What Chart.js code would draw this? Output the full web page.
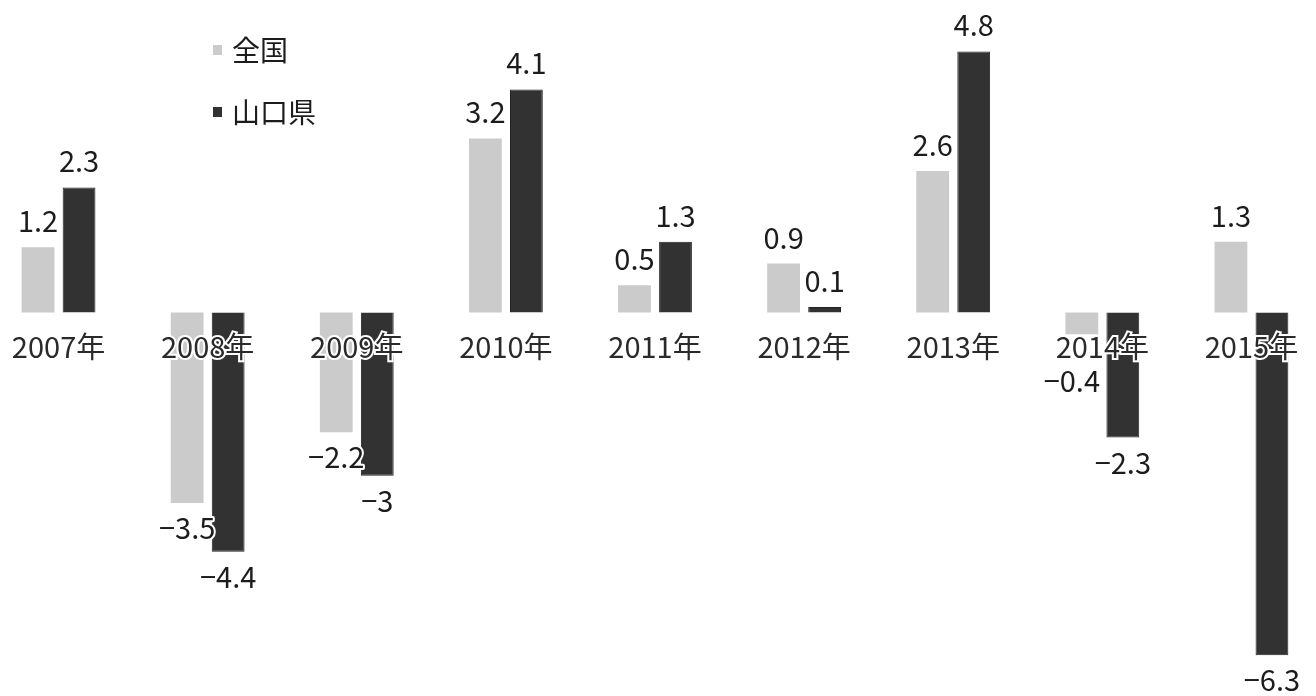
<!DOCTYPE html>
<html>
<head>
<meta charset="utf-8">
<script src="https://cdn.jsdelivr.net/npm/chart.js@4"></script>
<style>
  html, body { margin: 0; padding: 0; background: #ffffff; overflow: hidden; width: 1316px; height: 696px; }
  #wrap { position: absolute; left: -16px; top: 0; width: 1342px; height: 696px; }
</style>
</head>
<body>
<div id="wrap"><canvas id="c"></canvas></div>
<script>
const categories = ['2007年', '2008年', '2009年', '2010年', '2011年', '2012年', '2013年', '2014年', '2015年'];
const seriesNames = ['全国', '山口県'];
const zenkoku = [1.2, -3.5, -2.2, 3.2, 0.5, 0.9, 2.6, -0.4, 1.3];
const yamaguchi = [2.3, -4.4, -3, 4.1, 1.3, 0.1, 4.8, -2.3, -6.3];

const FONT = '"Noto Sans CJK JP", "Noto Sans", sans-serif';

function fmt(v) {
  const s = String(Math.abs(v));
  return v < 0 ? '\u2212' + s : s;
}

const valueLabels = {
  id: 'valueLabels',
  afterDraw(chart) {
    const ctx = chart.ctx;
    const zero = chart.scales.y.getPixelForValue(0);
    ctx.save();
    ctx.font = '29px ' + FONT;
    ctx.textAlign = 'center';
    ctx.textBaseline = 'alphabetic';
    ctx.lineJoin = 'round';
    chart.data.datasets.forEach((ds, di) => {
      const meta = chart.getDatasetMeta(di);
      meta.data.forEach((bar, i) => {
        const v = ds.data[i];
        const p = bar.getProps(['x', 'y', 'base'], true);
        let y, x = p.x;
        if (v >= 0) {
          y = p.y - 15;
        } else {
          y = p.y + 36;
          if (y < zero + 79) { y = zero + 79; x = p.x - 10; }
        }
        const t = fmt(v);
        ctx.strokeStyle = '#ffffff';
        ctx.lineWidth = 4;
        ctx.strokeText(t, x, y);
        ctx.fillStyle = '#1c1c1c';
        ctx.fillText(t, x, y);
      });
    });
    ctx.restore();
  }
};

const customLegend = {
  id: 'customLegend',
  afterDraw(chart) {
    const ctx = chart.ctx;
    ctx.save();
    ctx.font = '28px ' + FONT;
    ctx.textAlign = 'left';
    ctx.textBaseline = 'middle';
    const ys = [50, 112];
    chart.data.datasets.forEach((ds, di) => {
      const y = ys[di];
      ctx.fillStyle = ds.backgroundColor;
      ctx.fillRect(16 + 213, y - 5, 9, 10);
      ctx.fillStyle = '#1c1c1c';
      ctx.fillText(ds.label, 16 + 232, y);
    });
    ctx.restore();
  }
};

new Chart(document.getElementById('c'), {
  type: 'bar',
  data: {
    labels: categories,
    datasets: [
      { label: seriesNames[0], data: zenkoku, backgroundColor: '#cbcbcb', borderWidth: 0 },
      { label: seriesNames[1], data: yamaguchi, backgroundColor: '#323232', borderColor: '#222222', borderWidth: 1 }
    ]
  },
  options: {
    responsive: true,
    maintainAspectRatio: false,
    animation: false,
    devicePixelRatio: 1,
    layout: { padding: 0 },
    datasets: { bar: { categoryPercentage: 0.55, barPercentage: 0.8 } },
    plugins: {
      legend: { display: false },
      tooltip: { enabled: false }
    },
    scales: {
      y: {
        display: false,
        min: -7.05,
        max: 5.745
      },
      x: {
        position: { y: 0 },
        grid: { display: false, drawTicks: false, tickLength: 0 },
        border: { display: false },
        ticks: {
          z: 1,
          font: { family: FONT, size: 29 },
          color: '#2a2a2a',
          padding: 17,
          maxRotation: 0,
          autoSkip: false,
          textStrokeColor: '#ffffff',
          textStrokeWidth: 4
        },
        afterFit(scale) { scale.height = 0; }
      }
    }
  },
  plugins: [valueLabels, customLegend]
});
</script>
</body>
</html>
